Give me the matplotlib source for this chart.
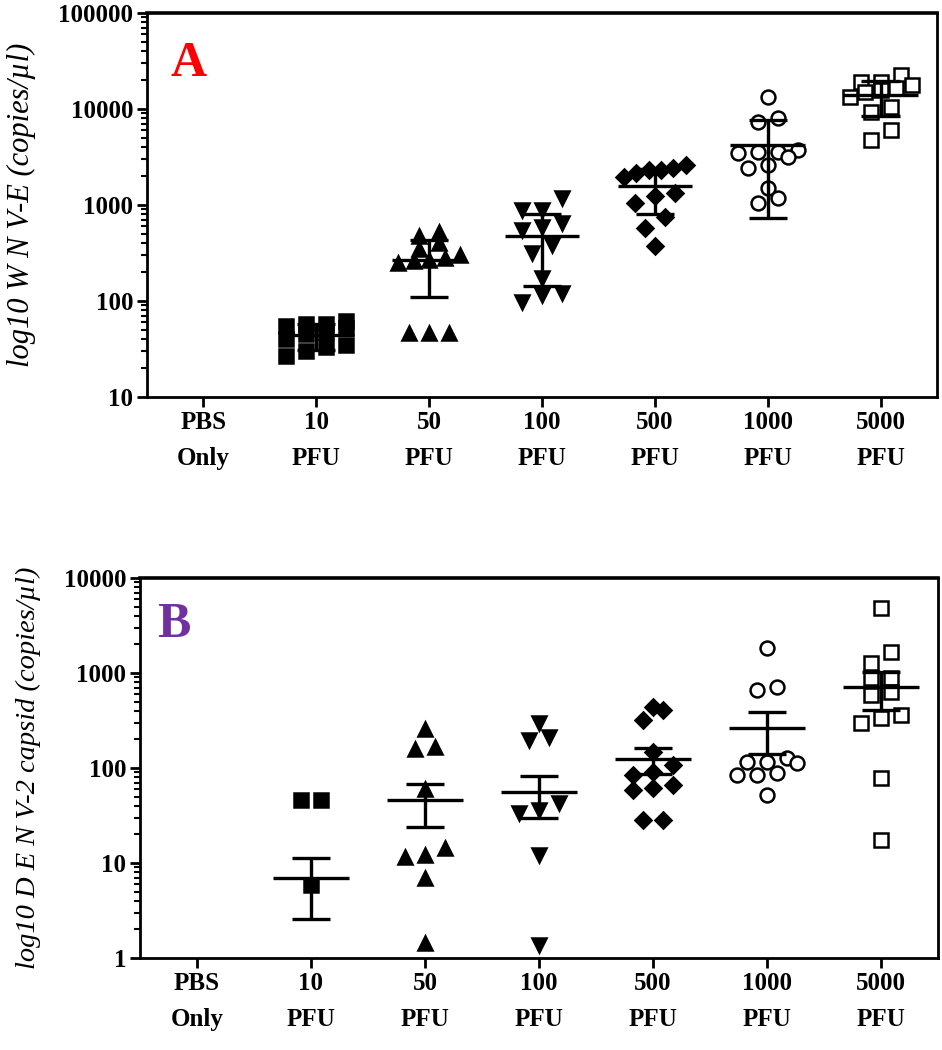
import numpy as np
import matplotlib
matplotlib.use("Agg")
import matplotlib.pyplot as plt
from matplotlib.ticker import FixedLocator, NullFormatter

# categories
groups = ["PBS\nOnly", "10\nPFU", "50\nPFU", "100\nPFU", "500\nPFU", "1000\nPFU", "5000\nPFU"]
markers = ["s", "s", "^", "v", "D", "o", "s"]
filled = [True, True, True, True, True, False, False]

# panel A - WNV-E copies/ul
wnv_pbs = []
wnv_10 = [62, 58, 57, 55, 52, 48, 45, 40, 35, 33, 30, 27]
wnv_50 = [520, 480, 400, 350, 300, 280, 270, 260, 250, 46, 46, 46]
wnv_100 = [1183, 887, 887, 649, 590, 549, 383, 316, 174, 121, 115, 97]
wnv_500 = [2610, 2429, 2315, 2315, 2154, 1957, 1334, 1241, 1049, 750, 576, 374]
wnv_1000 = [13335, 8058, 7328, 3740, 3565, 3565, 3480, 3162, 2610, 2429, 1503, 1183, 1049]
wnv_5000 = [22594, 19099, 19099, 17783, 16546, 15776, 15030, 13335, 10497, 9304, 6039, 4755]
wnv_mean = [np.nan, 44, 270, 475, 1590, 4220, 14100]
wnv_sd = [np.nan, 13, 160, 333, 780, 3490, 5650]

# panel B - DENV-2 capsid copies/ul
denv_pbs = []
denv_10 = [46, 46, 5.9]
denv_50 = [257, 166, 158, 60, 14.4, 12.1, 11.6, 6.95, 1.44]
denv_100 = [298, 212, 197, 42.8, 36.1, 33.6, 12.1, 1.37]
denv_500 = [439, 408, 320, 147, 108, 90.8, 84.4, 66.2, 61.6, 58.7, 28.4, 28.4]
denv_1000 = [1833, 712, 662, 127, 116, 116, 113, 88.6, 84.5, 84.5, 52]
denv_5000 = [4833, 1663, 1274, 886, 886, 631, 586, 361, 336, 298, 78.5, 17.5]
denv_mean = [np.nan, 7.0, 46, 56, 124, 264, 712]
denv_sem = [np.nan, 4.4, 22, 26, 38, 122, 308]

wnv_points = [wnv_pbs, wnv_10, wnv_50, wnv_100, wnv_500, wnv_1000, wnv_5000]
denv_points = [denv_pbs, denv_10, denv_50, denv_100, denv_500, denv_1000, denv_5000]

serif = "Liberation Serif"


def swarm(ypix, row_h=13.0, gap=20.0, max_w=62.0):
    # prism-like scatter: points close in y share a row and are spread sideways
    order = np.argsort(ypix)
    rows = []
    start = None
    for i in order:
        if start is None or ypix[i] - start >= row_h:
            rows.append([i])
            start = ypix[i]
        else:
            rows[-1].append(i)
    xs = np.zeros(len(ypix))
    for r in rows:
        n = len(r)
        step = gap if n < 2 else min(gap, max_w / (n - 1))
        for k, i in enumerate(r):
            xs[i] = (k - (n - 1) / 2) * step
    return xs


def draw_panel(ax, points, mean, err, ylim, yticks, ylabel, label_size, letter, letter_color,
               letter_pos):
    ax.set_yscale("log")
    ax.set_xlim(-0.5, len(groups) - 0.5)
    ax.set_ylim(*ylim)
    fig.canvas.draw()
    px_per_cat = ax.get_window_extent().width / len(groups)

    for i, vals in enumerate(points):
        if len(vals) == 0:
            continue
        vals = np.array(vals, dtype=float)
        ypix = ax.transData.transform(np.column_stack([np.full(len(vals), i), vals]))[:, 1]
        offs = swarm(ypix) / px_per_cat
        ms = 8 if markers[i] == "D" else 10
        ax.plot(i + offs, vals, linestyle="none", marker=markers[i], markersize=ms,
                markerfacecolor="black" if filled[i] else "white",
                markeredgecolor="black", markeredgewidth=1.8, zorder=2, clip_on=False)

    x = np.arange(len(groups))
    m = np.array(mean)
    e = np.array(err)
    ax.hlines(m, x - 0.33, x + 0.33, color="black", linewidth=2.4, zorder=3)
    ax.vlines(x, m - e, m + e, color="black", linewidth=2.4, zorder=3)
    ax.hlines(m + e, x - 0.17, x + 0.17, color="black", linewidth=2.4, zorder=3)
    ax.hlines(m - e, x - 0.17, x + 0.17, color="black", linewidth=2.4, zorder=3)

    ax.set_xticks(x)
    ax.set_xticklabels(groups, fontfamily=serif, fontweight="bold", fontsize=18,
                       linespacing=1.75)
    ax.yaxis.set_major_locator(FixedLocator(yticks))
    ax.set_yticklabels([str(t) for t in yticks], fontfamily=serif, fontweight="bold",
                       fontsize=18)
    minors = [k * 10 ** p for p in range(int(np.log10(ylim[0])), int(np.log10(ylim[1])))
              for k in range(2, 10)]
    ax.yaxis.set_minor_locator(FixedLocator(minors))
    ax.yaxis.set_minor_formatter(NullFormatter())
    ax.tick_params(axis="both", which="major", direction="out", length=7, width=2, pad=3)
    ax.tick_params(axis="y", which="minor", direction="out", length=4, width=1.5)
    for s in ax.spines.values():
        s.set_linewidth(2)
    ax.spines["top"].set_linewidth(2.6)
    ax.set_ylabel(ylabel, fontfamily=serif, fontstyle="italic", fontsize=label_size,
                  labelpad=16)
    ax.text(letter_pos[0], letter_pos[1], letter, transform=ax.transAxes, color=letter_color,
            fontfamily=serif, fontweight="bold", fontsize=36)


fig = plt.figure(figsize=(9.42, 10.5), dpi=100)
axA = fig.add_axes([147 / 942, 653 / 1050, 790 / 942, 384 / 1050])
axB = fig.add_axes([140 / 942, 92 / 1050, 798 / 942, 380 / 1050])

draw_panel(axA, wnv_points, wnv_mean, wnv_sd, (10, 100000), [10, 100, 1000, 10000, 100000],
           "log10 W N V-E (copies/\u00b5l)", 22, "A", "#ff0000", (0.03, 0.835))
draw_panel(axB, denv_points, denv_mean, denv_sem, (1, 10000), [1, 10, 100, 1000, 10000],
           "log10 D E N V-2 capsid (copies/\u00b5l)", 20.5, "B", "#7030a0", (0.022, 0.845))

fig.savefig("out.png", dpi=100)
